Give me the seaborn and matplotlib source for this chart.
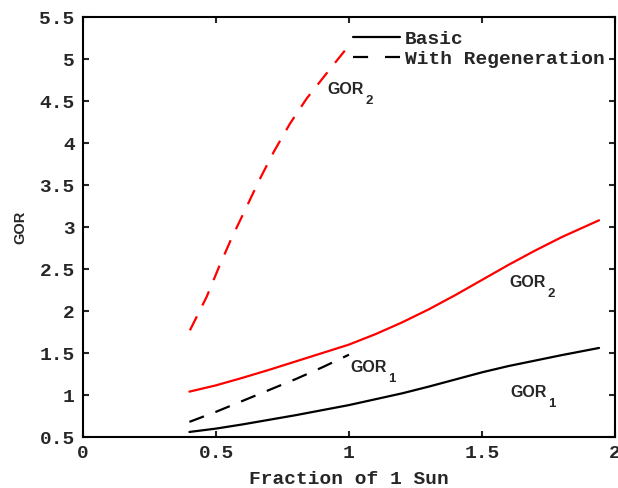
import matplotlib
matplotlib.use("Agg")
import matplotlib.pyplot as plt
import matplotlib.transforms as mtransforms
from matplotlib.lines import Line2D
import numpy as np
import pandas as pd
import seaborn as sns

# Data
x_basic = [0.4, 0.5, 0.6, 0.7, 0.8, 0.9, 1.0, 1.1, 1.2, 1.3, 1.4, 1.5, 1.6, 1.7, 1.8, 1.94]
gor2_basic = [1.04, 1.115, 1.205, 1.30, 1.40, 1.50, 1.60, 1.725, 1.865, 2.02, 2.19,
              2.37, 2.55, 2.72, 2.88, 3.08]
gor1_basic = [0.56, 0.60, 0.65, 0.705, 0.76, 0.82, 0.88, 0.95, 1.02, 1.10, 1.185,
              1.27, 1.345, 1.41, 1.475, 1.56]

x_regen2 = [0.402, 0.465, 0.512, 0.559, 0.609, 0.663, 0.718, 0.778, 0.841, 0.916, 0.997]
gor2_regen = [1.77, 2.17, 2.53, 2.87, 3.20, 3.56, 3.90, 4.23, 4.53, 4.83, 5.15]
x_regen1 = [0.4, 0.5, 0.6, 0.7, 0.8, 0.9, 1.0]
gor1_regen = [0.68, 0.80, 0.93, 1.06, 1.19, 1.33, 1.48]

legend_labels = ["Basic", "With Regeneration"]
x_ticks = [0, 0.5, 1, 1.5, 2]
x_tick_labels = ["0", "0.5", "1", "1.5", "2"]
y_ticks = [0.5, 1, 1.5, 2, 2.5, 3, 3.5, 4, 4.5, 5, 5.5]
y_tick_labels = ["0.5", "1", "1.5", "2", "2.5", "3", "3.5", "4", "4.5", "5", "5.5"]

# annotation texts: (x, y, subscript)
ann_x = [0.919, 1.603, 1.004, 1.605]
ann_y = [4.589, 2.282, 1.277, 0.980]
ann_sub = ["2", "2", "1", "1"]

sns.set_style("ticks")
plt.rcParams["font.family"] = ["Liberation Mono", "DejaVu Sans"]
plt.rcParams["font.weight"] = "bold"

DPI = 100
fig = plt.figure(figsize=(6.18, 4.88), dpi=DPI)
ax = fig.add_axes([83 / 618, 51 / 488, 532 / 618, 420 / 488])

dash = (0, (7, 5.5))
lw = 1.6
sns.lineplot(x=x_basic, y=gor2_basic, color="#ff0000", linewidth=lw, ax=ax)
sns.lineplot(x=x_basic, y=gor1_basic, color="black", linewidth=lw, ax=ax)
sns.lineplot(x=x_regen2, y=gor2_regen, color="#ff0000", linewidth=lw, linestyle=dash, ax=ax)
sns.lineplot(x=x_regen1, y=gor1_regen, color="black", linewidth=lw, linestyle=dash, ax=ax)

ax.set_xlim(0, 2)
ax.set_ylim(0.5, 5.5)
ax.set_xticks(x_ticks)
ax.set_xticklabels(x_tick_labels)
ax.set_yticks(y_ticks)
ax.set_yticklabels(y_tick_labels)
ax.tick_params(direction="in", top=True, right=True, length=4, width=1.5,
               labelsize=14, pad=6)
for lab in ax.get_xticklabels() + ax.get_yticklabels():
    lab.set_fontweight("bold")
for s in ax.spines.values():
    s.set_linewidth(1.5)
    s.set_color("black")

ax.set_xlabel("Fraction of 1 Sun", fontsize=14, fontweight="bold", labelpad=6)
ax.set_ylabel("GOR", fontsize=10.5, fontweight="bold", family="Liberation Sans")
ax.yaxis.set_label_coords(-0.104, 0.5)

renderer = fig.canvas.get_renderer()
for xv, yv, sv in zip(ann_x, ann_y, ann_sub):
    t = ax.text(xv, yv, "GOR", fontsize=11.5, fontweight="bold", family="Liberation Sans",
                ha="left", va="baseline")
    bb = t.get_window_extent(renderer)
    x0 = ax.transData.transform((xv, yv))[0]
    dx = (bb.x1 - x0 + 1.5) / DPI
    tr = ax.transData + mtransforms.ScaledTranslation(dx, -10 / DPI, fig.dpi_scale_trans)
    ax.text(xv, yv, sv, fontsize=9.5, fontweight="bold", family="Liberation Sans",
            ha="left", va="baseline", transform=tr)

handles = [Line2D([], [], color="black", lw=lw),
           Line2D([], [], color="black", lw=lw, linestyle=(0, (6.8, 7.6)))]
ax.legend(handles, legend_labels, loc="upper left", bbox_to_anchor=(0.5075, 0.969),
          frameon=False, borderpad=0, borderaxespad=0, handlelength=2.4,
          handletextpad=0.25, labelspacing=0.15,
          prop={"family": "Liberation Mono", "weight": "bold", "size": 14})

fig.savefig("out.png", dpi=DPI)
